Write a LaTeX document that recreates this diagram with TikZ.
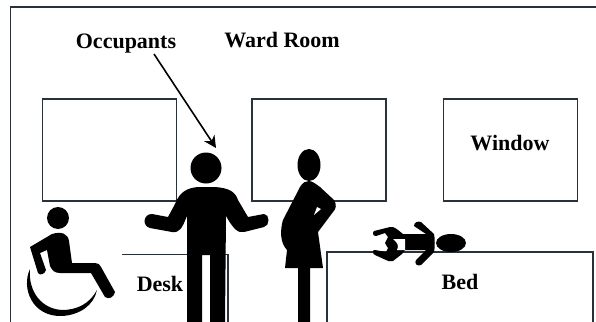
\documentclass[tikz,border=0pt]{standalone}
\usepackage{fontspec}
\setmainfont{Liberation Serif}
\usepackage{tikz}
\usetikzlibrary{arrows.meta, positioning, calc, shapes.geometric}
\definecolor{wallink}{HTML}{2B3138}
\definecolor{figink}{HTML}{000000}
\tikzset{
    wallbox/.style={draw=wallink, line width=0.9pt, minimum width=67pt, minimum height=51pt, inner sep=0pt, anchor=north west},
    wall/.style={draw=wallink, line width=0.9pt},
    roomlabel/.style={font=\bfseries\fontsize{11}{13}\selectfont, text=black, inner sep=0pt},
    figure/.style={fill=figink, draw=none},
}
\begin{document}
\begin{tikzpicture}[x=0.5pt, y=-0.5pt, >={Stealth[length=6pt,width=6pt]}]
    \useasboundingbox (0,0) rectangle (596,322);
    \fill[white] (0,0) rectangle (596,322);
    % room outline
    \coordinate (roomsw) at (10.5,322);
    \coordinate (roomnw) at (10.5,7);
    \coordinate (roomne) at (596,7);
    \draw[wall] (roomsw) -- (roomnw) -- (roomne);

    % windows
    \node[wallbox] (winleft) at (41.5,98) {};
    \node[wallbox] (winmid) at (251,98) {};
    \node[wallbox] (winright) at (442.5,98) {};
    \node[roomlabel] (winlabel) at (510,143) {Window};

    % desk and bed
    \coordinate (desknw) at (122,254.5);
    \coordinate (deskne) at (228,254.5);
    \coordinate (deskse) at (228,322);
    \draw[wall] (desknw) -- (deskne) -- (deskse);
    \node[roomlabel] (desklabel) at (160,284) {Desk};
    \coordinate (bedsw) at (327,322);
    \coordinate (bednw) at (327,252);
    \coordinate (bedne) at (593,252);
    \coordinate (bedse) at (593,322);
    \draw[wall] (bedsw) -- (bednw) -- (bedne) -- (bedse);
    \node[roomlabel] (bedlabel) at (460,282) {Bed};

    % labels
    \node[roomlabel] (wardlabel) at (282,40) {Ward Room};
    \node[roomlabel] (occlabel) at (126,44) {Occupants};

    % standing man
    \node[figure, circle, minimum size=15.5pt, inner sep=0pt] (manhead) at (206,168) {};
    \fill[figure] (175,204) .. controls (180,191) and (188,188) .. (198,187) -- (215,187) .. controls (228,188) and (235,191) .. (238,200) -- (248,217) -- (264,214) .. controls (270,214) and (270,226) .. (264,227) -- (244,232) .. controls (238,233) and (234,230) .. (226,216) -- (225,322) -- (210,322) -- (210,255) -- (202,255) -- (202,322) -- (187,322) -- (187,216) .. controls (182,228) and (180,233) .. (172,232) -- (150,228) .. controls (142,226) and (143,214) .. (152,214) -- (168,217) -- cycle;

    % woman
    \node[figure, ellipse, minimum width=11.5pt, minimum height=16pt, inner sep=0pt] (womanhead) at (309,165) {};
    \fill[figure] (309,181) .. controls (312,181) and (316,184) .. (320,187) -- (334,200) .. controls (337,205) and (336,209) .. (333,212) -- (318,232) -- (323,268) -- (310,268) -- (310,322) -- (298,322) -- (298,268) -- (285,268) -- (287,250) .. controls (280,243) and (280,230) .. (283,220) -- (300,187) .. controls (303,182) and (306,181) .. (309,181) -- cycle;
    \fill[white] (314,215) -- (317,207) -- (321,209) -- cycle;

    % patient on the bed
    \node[figure, ellipse, minimum width=15pt, minimum height=9pt, inner sep=0pt] (patienthead) at (451,243) {};
    \fill[figure] (403,234) -- (426,234) -- (414,226) .. controls (414,222) and (418,221) .. (421,222) -- (434,234) .. controls (435,238) and (435,248) .. (434,252) -- (421,265) .. controls (417,267) and (414,263) .. (416,260) -- (426,250) -- (405,250) -- (402,254) -- (393,261) .. controls (390,262) and (388,261) .. (386,260) -- (375,255) .. controls (372,253) and (372,250) .. (375,250) -- (386,252) -- (388,248) -- (385,243) -- (388,237) -- (385,233) -- (376,236) .. controls (373,236) and (372,233) .. (374,231) -- (390,227) .. controls (394,226) and (398,230) .. (403,234) -- cycle;
    \fill[white] (393,239) -- (405,239) -- (405,250) -- (397,250) .. controls (399,246) and (398,243) .. (393,239) -- cycle;

    % wheelchair user
    \node[figure, circle, minimum size=11pt, inner sep=0pt] (wheelhead) at (58,218) {};
    \fill[figure] (30,247) -- (52,234) .. controls (62,231) and (68,234) .. (69,241) -- (72,263) -- (95,263) .. controls (98,263) and (99,264) .. (101,267) -- (115,292) .. controls (114,297) and (109,300) .. (105,297) -- (91,273) -- (60,273) .. controls (54,273) and (52,270) .. (50,266) -- (47,250) -- (40,253) -- (46,270) .. controls (45,274) and (40,276) .. (38,273) -- cycle;
    \fill[figure] (30,269) .. controls (21,288) and (32,317) .. (62,316) .. controls (80,315) and (94,305) .. (97,290) .. controls (90,303) and (78,310) .. (62,310) .. controls (42,309) and (28,292) .. (30,269) -- cycle;

    % occupant pointer
    \coordinate (occtail) at (154,54);
    \coordinate (occtip) at (216,148);
    \draw[->, line width=0.8pt] (occtail) -- (occtip);
\end{tikzpicture}
\end{document}
